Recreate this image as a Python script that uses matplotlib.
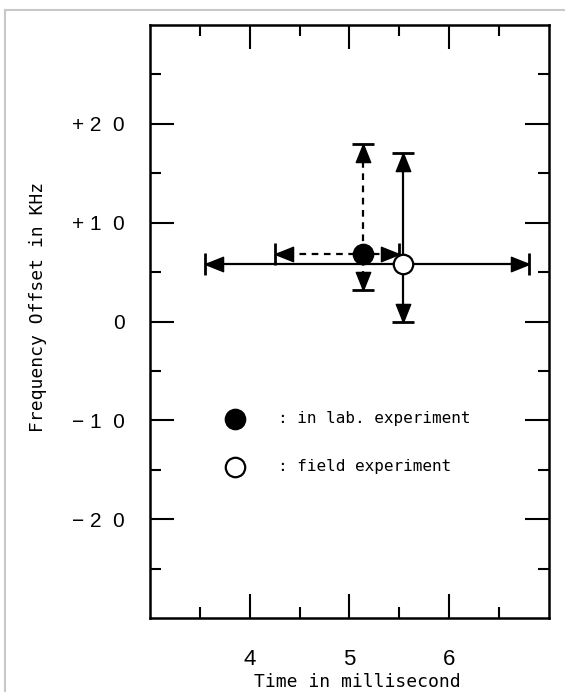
"""Frequency offset against time for the lab and field experiments"""
import numpy as np
import matplotlib
matplotlib.use("Agg")
from matplotlib import pyplot as plt
from matplotlib.path import Path
from matplotlib.lines import Line2D

# centre point and error range of each experiment (time in ms, offset in kHz)
lab_t, lab_f = 5.14, 6.8
lab_t_range = [4.25, 5.50]
lab_f_range = [3.2, 18.0]

field_t, field_f = 5.54, 5.8
field_t_range = [3.55, 6.80]
field_f_range = [0.0, 17.0]

x_ticks = [4, 5, 6]
x_minor = [3.5, 4.5, 5.5, 6.5]
x_tick_labels = ["4", "5", "6"]
y_ticks = [20, 10, 0, -10, -20]
y_minor = [25, 15, 5, -5, -15, -25]
y_tick_labels = ["+ 2  0", "+ 1  0", "0", "\u2212 1  0", "\u2212 2  0"]
legend_labels = [": in lab. experiment", ": field experiment"]

MONO = "DejaVu Sans Mono"
SANS = "Liberation Sans"


def head(angle):
    """Arrowhead marker with its tip on the data point"""
    a = np.deg2rad(angle)
    pts = np.array([[0, 0], [-1, 0.4], [-1, -0.4], [0, 0]])
    rot = np.array([[np.cos(a), -np.sin(a)], [np.sin(a), np.cos(a)]])
    return Path(pts @ rot.T, closed=True)


def draw_point(ax, t, f, t_range, f_range, dashed, face):
    eb = ax.errorbar(t, f,
                     xerr=[[t - t_range[0]], [t_range[1] - t]],
                     yerr=[[f - f_range[0]], [f_range[1] - f]],
                     fmt="none", ecolor="black", elinewidth=1.6,
                     capsize=8, capthick=2, zorder=2)
    if dashed:
        for lc in eb[2]:
            lc.set_linestyle((0, (3, 2.5)))
    # arrowheads pointing at the caps
    ends = [(t_range[0], f, 180), (t_range[1], f, 0),
            (t, f_range[0], 270), (t, f_range[1], 90)]
    for x, y, ang in ends:
        ax.plot(x, y, marker=head(ang), markersize=26, color="black",
                linestyle="none", zorder=3)
    ax.plot(t, f, "o", markersize=14, markerfacecolor=face,
            markeredgecolor="black", markeredgewidth=1.6, zorder=4)


fig = plt.figure(figsize=(5.65, 6.92), dpi=100)
ax = fig.add_axes([0.2655, 0.1069, 0.706, 0.857])
ax.set_xlim(3, 7)
ax.set_ylim(-30, 30)

draw_point(ax, field_t, field_f, field_t_range, field_f_range, False, "white")
draw_point(ax, lab_t, lab_f, lab_t_range, lab_f_range, True, "black")

ax.set_xticks(x_ticks, x_tick_labels, fontfamily=SANS, fontsize=16)
ax.set_xticks(x_minor, minor=True)
ax.set_yticks(y_ticks, y_tick_labels, fontfamily=SANS, fontsize=15)
ax.set_yticks(y_minor, minor=True)
ax.tick_params(which="both", direction="in", top=True, right=True,
               width=1.5, color="black")
ax.tick_params(which="major", length=17)
ax.tick_params(which="minor", length=8)
ax.tick_params(axis="x", pad=22)
ax.tick_params(axis="y", pad=18)
for s in ax.spines.values():
    s.set_linewidth(1.8)

# legend drawn by hand inside the frame
for yy, face, label in zip([0.336, 0.255], ["black", "white"], legend_labels):
    ax.plot(0.213, yy, "o", markersize=14, markerfacecolor=face,
            markeredgecolor="black", markeredgewidth=1.6,
            transform=ax.transAxes)
    ax.text(0.321, yy, label, transform=ax.transAxes, fontfamily=MONO,
            fontsize=11.5, va="center", ha="left")

fig.text(38 / 565, 1 - 307 / 692, "Frequency Offset in KHz", rotation=90,
         fontfamily=MONO, fontsize=13, ha="center", va="center")
fig.text(357 / 565, 1 - 682 / 692, "Time in millisecond",
         fontfamily=MONO, fontsize=13, ha="center", va="center")

# thin grey frame on the left and top edges
fig.add_artist(Line2D([0.0088, 0.0088], [0, 0.985], transform=fig.transFigure,
                      color="#c8c8c8", lw=1.5))
fig.add_artist(Line2D([0.0088, 1], [0.985, 0.985], transform=fig.transFigure,
                      color="#c8c8c8", lw=1.5))

fig.savefig("out.png", dpi=100)
